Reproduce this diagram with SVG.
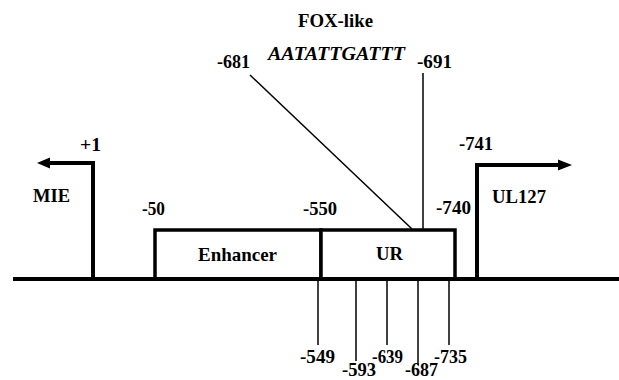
<svg xmlns="http://www.w3.org/2000/svg" width="619" height="380" viewBox="0 0 619 380">
<style>
text{font-family:"Liberation Serif","Tinos","Times New Roman","DejaVu Serif","Noto Serif",serif;font-weight:bold;font-size:19px;fill:#000}
.it{font-style:italic}
.mid{text-anchor:middle}
.thick{stroke:#000;stroke-width:4;fill:none}
.thin{stroke:#000;stroke-width:1.5;fill:none}
.box{stroke:#000;stroke-width:3.5;fill:#fff}
</style>
<rect width="619" height="380" fill="#fff"/>
<g id="connectors">
<line class="thin" x1="250" y1="75" x2="412" y2="229"/>
<line class="thin" x1="423" y1="73" x2="423" y2="229"/>
<line class="thin" x1="318" y1="279" x2="318" y2="345"/>
<line class="thin" x1="356" y1="279" x2="356" y2="361"/>
<line class="thin" x1="387" y1="279" x2="387" y2="345"/>
<line class="thin" x1="418" y1="279" x2="418" y2="365"/>
<line class="thin" x1="449" y1="279" x2="449" y2="345"/>
</g>
<g id="enhancer">
<rect class="box" x="155" y="230" width="166" height="49"/>
<text x="198" y="261" textLength="79" lengthAdjust="spacingAndGlyphs">Enhancer</text>
</g>
<g id="ur">
<rect class="box" x="321" y="230" width="134" height="49"/>
<text x="376" y="260" textLength="27" lengthAdjust="spacingAndGlyphs">UR</text>
</g>
<g id="dna">
<line class="thick" x1="13" y1="279" x2="619" y2="279"/>
</g>
<g id="mie">
<path class="thick" d="M93,279 V163 H48"/>
<polygon points="37,163 50,157.5 50,168.5" fill="#000"/>
<text x="33" y="202" textLength="37" lengthAdjust="spacingAndGlyphs">MIE</text>
<text x="80" y="151" textLength="21" lengthAdjust="spacingAndGlyphs">+1</text>
</g>
<g id="ul127">
<path class="thick" d="M477,279 V165 H560"/>
<polygon points="572,165 558,159.5 558,170.5" fill="#000"/>
<text x="492" y="203" textLength="54" lengthAdjust="spacingAndGlyphs">UL127</text>
<text x="459" y="150" textLength="34" lengthAdjust="spacingAndGlyphs">-741</text>
</g>
<g id="fox">
<text x="298" y="27" textLength="75" lengthAdjust="spacingAndGlyphs">FOX-like</text>
<text class="it" x="268" y="60" textLength="137" lengthAdjust="spacingAndGlyphs">AATATTGATTT</text>
<text x="217" y="68" textLength="33" lengthAdjust="spacingAndGlyphs">-681</text>
<text x="417" y="68" textLength="35" lengthAdjust="spacingAndGlyphs">-691</text>
</g>
<g id="labels">
<text x="142" y="215" textLength="23" lengthAdjust="spacingAndGlyphs">-50</text>
<text x="303" y="215" textLength="34" lengthAdjust="spacingAndGlyphs">-550</text>
<text x="436" y="214" textLength="35" lengthAdjust="spacingAndGlyphs">-740</text>
<text x="300" y="363" textLength="35" lengthAdjust="spacingAndGlyphs">-549</text>
<text x="342" y="376" textLength="34" lengthAdjust="spacingAndGlyphs">-593</text>
<text x="372" y="363" textLength="31" lengthAdjust="spacingAndGlyphs">-639</text>
<text x="405" y="376" textLength="33" lengthAdjust="spacingAndGlyphs">-687</text>
<text x="434" y="363" textLength="33" lengthAdjust="spacingAndGlyphs">-735</text>
</g>
</svg>
